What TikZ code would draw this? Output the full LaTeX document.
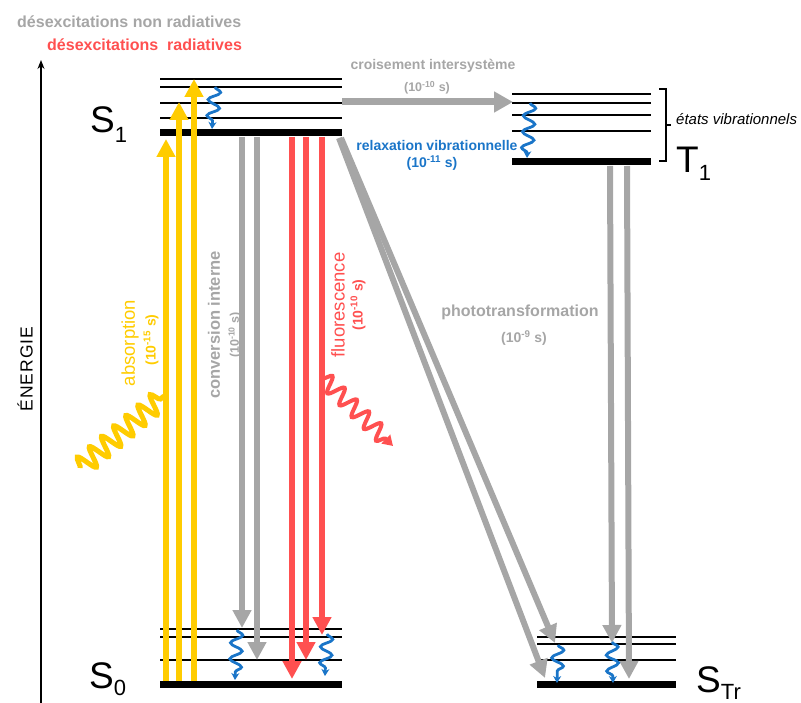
\documentclass[tikz,border=0pt]{standalone}
\usepackage{fontspec}
\setmainfont{Liberation Sans}
\usetikzlibrary{arrows.meta,decorations.pathmorphing}
\definecolor{cyel}{HTML}{FFCC00}
\definecolor{cred}{HTML}{FF5050}
\definecolor{cgray}{HTML}{A6A6A6}
\definecolor{cblue}{HTML}{1A75C8}
\newcommand{\fs}[1]{\fontsize{#1}{#1}\selectfont}
\newcommand{\lvlname}[3]{{\fs{37}#1}{\fs{22}\raisebox{-#3}{#2}}}
\begin{document}
\begin{tikzpicture}[x=1pt,y=-1pt,
  thinlevel/.style={line width=1.8pt},
  thicklevel/.style={line width=7pt},
  tip/.style={-{Triangle[width=18pt,length=18pt]}},
  yarrow/.style={cyel,line width=6pt,tip},
  rarrow/.style={cred,line width=6pt,tip},
  garrow/.style={cgray,line width=6pt,tip},
  bwave/.style={cblue,line width=2.8pt,decorate,
    decoration={snake,amplitude=6pt,segment length=16pt,post length=5pt},
    -{Stealth[length=7pt,width=8pt]}},
  lbl/.style={inner sep=0pt},
  timelbl/.style={lbl,font=\bfseries\fs{14}}]
\useasboundingbox (0,0) rectangle (801,703);
% legend
\node[lbl,anchor=west,cgray,font=\bfseries\fs{16}] (leg1) at (17,22) {désexcitations non radiatives};
\node[lbl,anchor=west,cred,font=\bfseries\fs{16}] (leg2) at (47,45) {désexcitations\ \ radiatives};
% energy axis
\coordinate (axb) at (41,703);
\coordinate (axt) at (41,60);
\draw[line width=1.4pt,-{Stealth[length=9pt,width=7pt]}] (axb) -- (axt);
\node[lbl,rotate=90,font=\fs{17.5}\addfontfeature{LetterSpace=6}] (en) at (25,369) {ÉNERGIE};
% S1 levels
\foreach \y in {79,87,103,118} \draw[thinlevel] (160,\y) -- (342,\y);
\draw[thicklevel] (160,133) -- (342,133);
% T1 levels
\foreach \y in {94,103,115,131} \draw[thinlevel] (512,\y) -- (651,\y);
\draw[thicklevel] (512,162) -- (651,162);
% S0 levels
\foreach \y in {629,637,660} \draw[thinlevel] (160,\y) -- (342,\y);
\draw[thicklevel] (160,684) -- (342,684);
% STr levels
\foreach \y in {637,644,660} \draw[thinlevel] (537,\y) -- (676,\y);
\draw[thicklevel] (537,684) -- (676,684);
% level names
\node[lbl,anchor=base west] (s1) at (90,133) {\lvlname{S}{1}{10pt}};
\node[lbl,anchor=base west] (s0) at (89,688) {\lvlname{S}{0}{7pt}};
\node[lbl,anchor=base west] (t1) at (676,173) {\lvlname{T}{1}{8pt}};
\node[lbl,anchor=base west] (str) at (696,692) {\lvlname{S}{Tr}{7pt}};
% brace
\draw[line width=1.3pt] (659,89) -- (666,89) -- (666,161) -- (659,161);
\draw[line width=1.3pt] (666,125) -- (671,125);
\node[lbl,anchor=west,font=\itshape\fs{15}] (vib) at (676,119) {états vibrationnels};
% absorption
\draw[yarrow] (166,681) -- (166,139);
\draw[yarrow] (179,681) -- (179,102);
\draw[yarrow] (194,681) -- (194,79);
\draw[cyel,line width=5pt,decorate,decoration={snake,amplitude=10pt,segment length=16pt,post length=4pt}] (80,468) -- (164,396);
\node[lbl,rotate=90,cyel,font=\fs{18.5}] (abs) at (130,343) {absorption};
\node[timelbl,rotate=90,cyel] (abst) at (151,340) {(10\textsuperscript{-15} s)};
% internal conversion
\draw[garrow] (242,137) -- (242,628);
\draw[garrow] (257,137) -- (257,660);
\node[lbl,rotate=90,cgray,font=\bfseries\fs{16.5}] (ci) at (214,325) {conversion interne};
\node[timelbl,rotate=90,cgray,font=\bfseries\fs{12.5}] (cit) at (235,335) {(10\textsuperscript{-10} s)};
% fluorescence
\draw[rarrow] (292,137) -- (292,679);
\draw[rarrow] (306,137) -- (306,660);
\draw[rarrow] (322,137) -- (322,635);
\draw[cred,line width=4pt,decorate,decoration={snake,amplitude=8pt,segment length=17pt,post length=8pt},-{Triangle[width=12pt,length=10pt]}] (323,378) -- (393,446);
\node[lbl,rotate=90,cred,font=\fs{18.5}] (fl) at (338,305) {fluorescence};
\node[timelbl,rotate=90,cred] (flt) at (358,305) {(10\textsuperscript{-10} s)};
% intersystem crossing
\draw[cgray,line width=7pt,-{Triangle[width=20pt,length=19pt]}] (342,102) -- (513,102);
\node[lbl,cgray,font=\bfseries\fs{14}] (isc) at (433,66) {croisement intersystème};
\node[timelbl,cgray,font=\bfseries\fs{12.5}] (isct) at (427,88) {(10\textsuperscript{-10} s)};
% vibrational relaxation label
\node[lbl,cblue,font=\bfseries\fs{14}] (rv) at (437,145) {relaxation vibrationnelle};
\node[timelbl,cblue] (rvt) at (432,163) {(10\textsuperscript{-11} s)};
% phototransformation
\draw[garrow] (339,138) -- (545,678);
\draw[garrow] (341,138) -- (555,643);
\draw[garrow] (610,166) -- (612,643);
\draw[garrow] (627,166) -- (629,679);
\node[lbl,cgray,font=\bfseries\fs{16}] (pt) at (520,312) {phototransformation};
\node[timelbl,cgray] (ptt) at (524,338) {(10\textsuperscript{-9} s)};
% blue wiggles
\draw[bwave] (215,87) -- (212,129);
\draw[bwave] (530,103) -- (527,158);
\draw[bwave] (237,630) -- (235,680);
\draw[bwave] (327,634) -- (325,676);
\draw[bwave] (558,645) -- (557,683);
\draw[bwave] (612,642) -- (613,683);
\end{tikzpicture}
\end{document}
